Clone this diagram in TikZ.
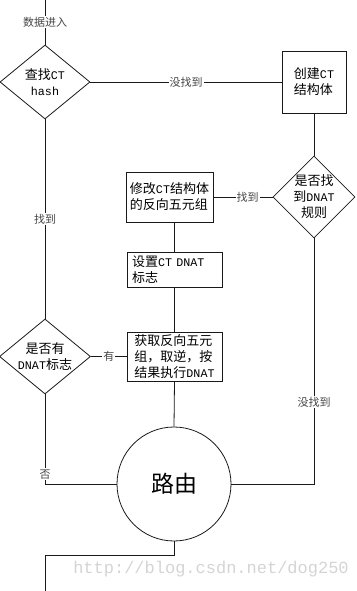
\documentclass[tikz,border=0pt]{standalone}
\usepackage{fontspec}
\setmainfont{Liberation Serif}
\newfontfamily\cjk{Noto Sans CJK SC}
\newfontfamily\lat[Scale=0.9]{Liberation Mono}
\newfontfamily\wmfont{Liberation Mono}
\usepackage{tikz}
\usetikzlibrary{shapes.geometric}
\definecolor{cLine}{RGB}{25,25,25}
\definecolor{cLabel}{RGB}{70,70,70}
\definecolor{cMark}{RGB}{212,212,212}

\begin{document}
\begin{tikzpicture}[x=1pt,y=-1pt,line width=0.8pt,
  box/.style={draw=cLine,rectangle,inner xsep=4pt,inner ysep=1pt,align=left,font=\cjk\fontsize{13}{16}\selectfont},
  decision/.style={draw=cLine,diamond,inner sep=0pt},
  dtext/.style={align=center,inner sep=0pt,font=\cjk\fontsize{13}{16}\selectfont},
  lbl/.style={fill=white,inner sep=1pt,text=cLabel,font=\cjk\fontsize{11}{12}\selectfont},
  conn/.style={draw=cLine}]
\useasboundingbox (0,0) rectangle (356,591);
\coordinate (in) at (45,0);
\node[decision,minimum width=90pt,minimum height=74pt] (lookup) at (45,82) {};
\node[dtext] (lookupT) at (lookup) {查找{\lat CT}\\{\lat hash}};
\node[box,minimum width=64pt,minimum height=62pt] (create) at (314,82) {创建{\lat CT}\\结构体};
\node[decision,minimum width=82pt,minimum height=82pt] (rule) at (314,197) {};
\node[dtext] (ruleT) at (rule) {是否找\\到{\lat DNAT}\\规则};
\node[box,minimum width=85pt,minimum height=50pt] (modify) at (169.5,197) {修改{\lat CT}结构体\\的反向五元组};
\node[box,minimum width=95pt,minimum height=35pt,text width=85pt] (setflag) at (174.5,269.5) {设置{\lat CT DNAT}\\标志};
\node[decision,minimum width=91pt,minimum height=75pt] (hasflag) at (45,356.5) {};
\node[dtext] (hasflagT) at (hasflag) {是否有\\{\lat DNAT}标志};
\node[box,minimum width=95pt,minimum height=49pt] (getrev) at (174.5,356.5) {获取反向五元\\组，取逆，按\\结果执行{\lat DNAT}};
\node[draw=cLine,circle,minimum size=114pt,inner sep=0pt,font=\cjk\fontsize{23}{26}\selectfont] (route) at (174,484) {路由};
\coordinate (out) at (45,591);
\node[text=cMark,font=\wmfont\fontsize{17}{17}\selectfont] (mark) at (211,569) {http://blog.csdn.net/dog250};

\draw[conn] (in) -- node[lbl]{数据进入} (lookup.north);
\draw[conn] (lookup.east) -- node[lbl]{没找到} (create.west);
\draw[conn] (create.south) -- (rule.north);
\draw[conn] (rule.west) -- node[lbl,pos=0.42]{找到} (modify.east);
\draw[conn] (modify.south -| setflag) -- (setflag.north);
\draw[conn] (setflag.south) -- (getrev.north);
\draw[conn] (getrev.south) -- (route.north);
\draw[conn] (lookup.south) -- node[lbl]{找到} (hasflag.north);
\draw[conn] (hasflag.east) -- node[lbl]{有} (getrev.west);
\draw[conn] (hasflag.south) -- node[lbl,pos=0.89]{否} (hasflag.south |- route.west) -- (route.west);
\draw[conn] (rule.south) -- node[lbl,pos=0.667]{没找到} (rule.south |- route.east) -- (route.east);
\draw[conn] (route.south) -- ++(0,14) -| (out);
\end{tikzpicture}
\end{document}
